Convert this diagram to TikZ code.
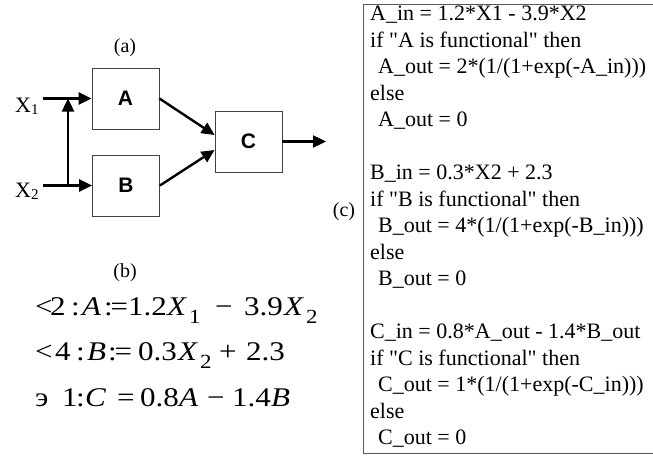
\documentclass[tikz,border=0pt]{standalone}
\usepackage{graphicx}
\usepackage{fontspec}
\setmainfont{Liberation Serif}
\newfontfamily\blkfont{Liberation Sans}
\usetikzlibrary{arrows.meta,positioning}
\newcommand{\mv}[1]{\textit{#1}}
\newcommand{\lsub}[1]{\raisebox{-2pt}{\fontsize{15}{15}\selectfont #1}}
\newcommand{\esub}[1]{\raisebox{-8pt}{\fontsize{20}{20}\selectfont #1}}
\newcommand{\eqcell}[2]{\makebox[\dimexpr #1pt*20/23\relax][l]{#2}}
\newcommand{\eqwide}[1]{\scalebox{1.15}[1]{#1}}

\begin{document}
\begin{tikzpicture}[x=1pt, y=-1pt,
  blk/.style={
    draw=black!75, line width=0.8pt, minimum width=67pt, minimum height=61pt,
    font=\blkfont\bfseries\fontsize{21}{24}\selectfont,
  },
  flow/.style={line width=2.4pt, -{Triangle[length=13pt,width=12pt]}},
  tag/.style={font=\fontsize{20}{24}\selectfont, inner sep=0pt},
  inp/.style={font=\fontsize{22}{26}\selectfont, anchor=base west, inner sep=0pt, inner xsep=4pt},
  eqn/.style={font=\fontsize{27}{32}\selectfont, anchor=base west, inner sep=0pt},
  code/.style={font=\fontsize{22}{26.5}\selectfont, anchor=north west, align=left, inner sep=0pt},
]
\useasboundingbox (0,0) rectangle (653,455);

% Blocks of the network
\node[blk] (boxa) at (125.5,98.5) {A};
\node[blk] (boxb) at (126,185.5)  {B};
\node[blk] (boxc) at (248.5,141.5) {C};

% Panel tags
\node[tag] (taga) at (125,48)  {(a)};
\node[tag] (tagb) at (125,273) {(b)};
\node[tag] (tagc) at (344,212) {(c)};

% Inputs
\node[inp] (x1) at (11,112) {X\lsub{1}};
\node[inp] (x2) at (11,197) {X\lsub{2}};
\coordinate (j1) at (68,98.5);
\coordinate (j2) at (68,185.5);
\coordinate (cout) at (326,141.5);

% Connections
\draw[flow] (x1.east |- boxa.west) -- (boxa.west);
\draw[flow] (x2.east |- boxb.west) -- (boxb.west);
\draw[flow] (j2) -- (j1);
\draw[flow] (boxa.east) -- ([yshift=6.5pt]boxc.west);
\draw[flow] (boxb.east) -- ([yshift=-8.5pt]boxc.west);
\draw[flow] (boxc.east) -- (cout);

% Equations (b)
\node[eqn] (eq1) at (35,315) {\eqwide{\eqcell{15}{<}\eqcell{21}{2}\eqcell{11}{:}\eqcell{22}{\mv{A}}%
  \eqcell{24}{:\kern-2pt=}\eqcell{39}{1.2}\eqcell{22}{\mv{X}}\eqcell{26}{\esub{1}}%
  \eqcell{29}{−}\eqcell{40}{3.9}\eqcell{22}{\mv{X}}\esub{2}}};
\node[eqn] (eq2) at (35,360) {\eqwide{\eqcell{20}{<}\eqcell{21}{4}\eqcell{11}{:}\eqcell{21}{\mv{B}}%
  \eqcell{30}{:\kern-2pt=}\eqcell{40}{0.3}\eqcell{22}{\mv{X}}\eqcell{19}{\esub{2}}%
  \eqcell{27}{+}2.3}};
\node[eqn] (eq3) at (35,406) {\eqwide{\eqcell{27}{э}\eqcell{14}{1}\eqcell{9}{:}\eqcell{32}{\mv{C}}%
  \eqcell{23}{=}\eqcell{39}{0.8}\eqcell{28}{\mv{A}}\eqcell{25}{−}\eqcell{39}{1.4}\mv{B}}};

% Program (c)
\draw[line width=0.9pt, black!65] (653,4) -| (363,453) -- (653,453);
\node[code] (prog) at (370,6) {%
  A\_in = 1.2*X1 - 3.9*X2\\
  if \textquotedbl A is functional\textquotedbl{} then\\
  \hspace*{8pt}A\_out = 2*(1/(1+exp(-A\_in)))\\
  else\\
  \hspace*{8pt}A\_out = 0\\[26.5pt]
  B\_in = 0.3*X2 + 2.3\\
  if \textquotedbl B is functional\textquotedbl{} then\\
  \hspace*{8pt}B\_out = 4*(1/(1+exp(-B\_in)))\\
  else\\
  \hspace*{8pt}B\_out = 0\\[26.5pt]
  C\_in = 0.8*A\_out - 1.4*B\_out\\
  if \textquotedbl C is functional\textquotedbl{} then\\
  \hspace*{8pt}C\_out = 1*(1/(1+exp(-C\_in)))\\
  else\\
  \hspace*{8pt}C\_out = 0};

\end{tikzpicture}
\end{document}
